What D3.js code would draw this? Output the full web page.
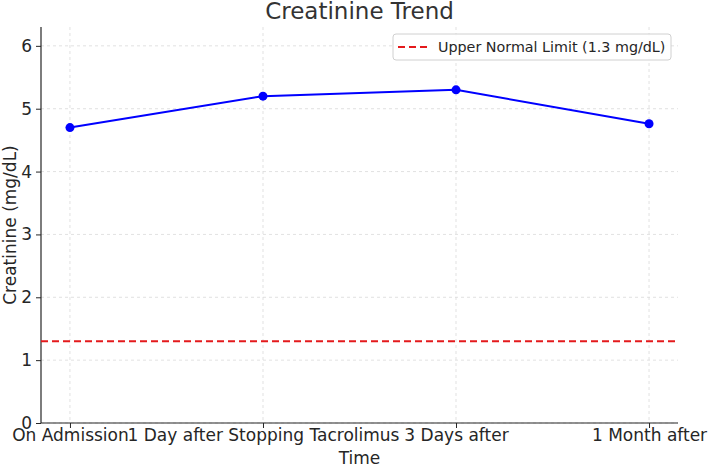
<!DOCTYPE html>
<html>
<head>
<meta charset="utf-8">
<script src="https://cdn.jsdelivr.net/npm/d3@7"></script>
<style>
  html, body { margin: 0; padding: 0; background: #fff; }
  svg { display: block; font-family: "DejaVu Sans", sans-serif; }
</style>
</head>
<body>
<svg id="chart" width="709" height="466"></svg>
<script>
const categories = ["On Admission", "1 Day after Stopping Tacrolimus", "3 Days after", "1 Month after"];
const creatinine = [4.7, 5.2, 5.3, 4.76];
const upperNormal = 1.3;
const yTicks = [0, 1, 2, 3, 4, 5, 6];
const title = "Creatinine Trend";
const xLabel = "Time";
const yLabel = "Creatinine (mg/dL)";
const legendLabel = "Upper Normal Limit (1.3 mg/dL)";

(function () {
const svg = d3.select("#chart");
const pL = 41, pR = 678, pT = 27, pB = 423;
const textColor = "#262626";

const xIdx = d3.scaleLinear().domain([-0.15, categories.length - 1 + 0.15]).range([pL, pR]);
const y = d3.scaleLinear().domain([0, 6.3]).range([pB, pT]);

// grid
const grid = svg.append("g");
grid.selectAll("line.gx").data(categories).enter().append("line")
  .attr("x1", (d, i) => xIdx(i)).attr("x2", (d, i) => xIdx(i))
  .attr("y1", pT).attr("y2", pB)
  .attr("stroke", "#d9d9d9").attr("stroke-width", 0.8).attr("stroke-dasharray", "3,3");
grid.selectAll("line.gy").data(yTicks).enter().append("line")
  .attr("x1", pL).attr("x2", pR)
  .attr("y1", d => y(d)).attr("y2", d => y(d))
  .attr("stroke", "#d9d9d9").attr("stroke-width", 0.8).attr("stroke-dasharray", "3,3");

// axes
const yAxis = d3.axisLeft(y).tickValues(yTicks).tickSize(5).tickPadding(4).tickFormat(d3.format("d"));
const gy = svg.append("g").attr("transform", `translate(${pL},0)`).call(yAxis);
gy.select(".domain").attr("d", `M0,${pT}V${pB}`).attr("stroke", textColor).attr("stroke-width", 1.2);
gy.selectAll(".tick line").attr("stroke", textColor);
gy.selectAll(".tick text").attr("font-size", 17).attr("fill", textColor).attr("font-family", "DejaVu Sans");

const xAxis = d3.axisBottom(xIdx).tickValues(d3.range(categories.length)).tickSize(5).tickPadding(1)
  .tickFormat(i => categories[i]);
const gx = svg.append("g").attr("transform", `translate(0,${pB})`).call(xAxis);
gx.select(".domain").attr("d", `M${pL},0H${pR}`).attr("stroke", textColor).attr("stroke-width", 1.2);
gx.selectAll(".tick line").attr("stroke", textColor);
gx.selectAll(".tick text").attr("font-size", 17).attr("fill", textColor).attr("font-family", "DejaVu Sans");

// reference line
svg.append("line")
  .attr("x1", pL).attr("x2", pR)
  .attr("y1", y(upperNormal)).attr("y2", y(upperNormal))
  .attr("stroke", "#e41a1c").attr("stroke-width", 2).attr("stroke-dasharray", "7,4");

// data line
const line = d3.line().x((d, i) => xIdx(i)).y(d => y(d));
svg.append("path").datum(creatinine)
  .attr("d", line).attr("fill", "none").attr("stroke", "#0000ff").attr("stroke-width", 2);
svg.selectAll("circle.pt").data(creatinine).enter().append("circle")
  .attr("cx", (d, i) => xIdx(i)).attr("cy", d => y(d)).attr("r", 4.5).attr("fill", "#0000ff");

// title & labels
svg.append("text").attr("x", (pL + pR) / 2).attr("y", 19).attr("text-anchor", "middle")
  .attr("font-size", 23).attr("fill", "#333").text(title);
svg.append("text").attr("x", (pL + pR) / 2).attr("y", 464).attr("text-anchor", "middle")
  .attr("font-size", 17).attr("fill", textColor).text(xLabel);
svg.append("text").attr("transform", `translate(16,${(pT + pB) / 2}) rotate(-90)`)
  .attr("text-anchor", "middle").attr("font-size", 17).attr("fill", textColor).text(yLabel);

// legend
const lg = svg.append("g");
lg.append("rect").attr("x", 393).attr("y", 34).attr("width", 278).attr("height", 26).attr("rx", 3)
  .attr("fill", "#fff").attr("fill-opacity", 0.85).attr("stroke", "#d0d0d0");
lg.append("line").attr("x1", 398).attr("x2", 427).attr("y1", 47).attr("y2", 47)
  .attr("stroke", "#e41a1c").attr("stroke-width", 2).attr("stroke-dasharray", "7,4");
lg.append("text").attr("x", 438).attr("y", 52).attr("font-size", 14.3).attr("fill", textColor).text(legendLabel);
})();
</script>
</body>
</html>
